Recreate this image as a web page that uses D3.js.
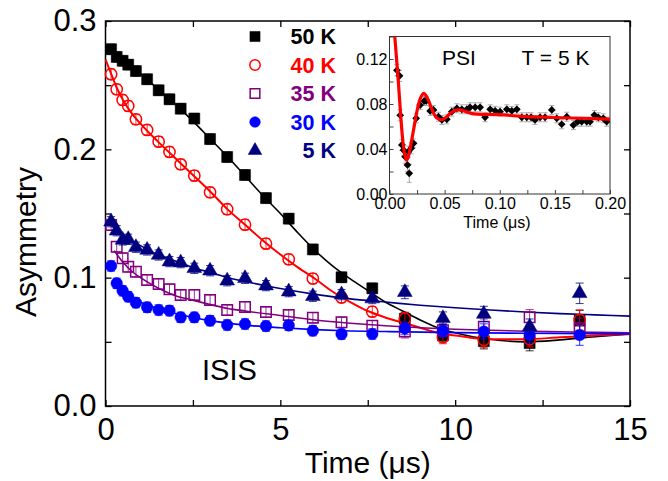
<!DOCTYPE html>
<html><head><meta charset="utf-8">
<script src="https://cdn.jsdelivr.net/npm/d3@7"></script>
<style>body{margin:0;background:#fff} svg{display:block} text{font-family:"Liberation Sans",Arial,sans-serif}</style>
</head><body><svg id="c" width="668" height="481"></svg>
<script>
// ---------- main (ISIS) data ----------
const times = [0.16,0.32,0.49,0.65,0.87,1.19,1.52,1.83,2.15,2.54,2.99,3.48,3.99,4.59,5.24,5.93,6.75,7.63,8.56,9.65,10.82,12.13,13.56];
const a50 = [0.278,0.272,0.269,0.266,0.261,0.2546,0.246,0.239,0.2317,0.224,0.208,0.194,0.180,0.162,0.146,0.122,0.1003,0.0917,0.068,0.055,0.0505,0.049,0.0665];
const a40 = [0.2585,0.2468,0.2385,0.2338,0.2234,0.2151,0.206,0.198,0.1883,0.1795,0.1665,0.1533,0.1413,0.1265,0.1143,0.0993,0.0845,0.0735,0.068,0.0535,0.0514,0.052,0.067];
const a35 = [0.141,0.1241,0.1151,0.1085,0.1047,0.0982,0.0951,0.0909,0.0865,0.0865,0.0826,0.0748,0.0772,0.0732,0.0709,0.0688,0.0652,0.0626,0.058,0.059,0.0618,0.0691,0.0605];
const a30 = [0.1091,0.0956,0.0898,0.0852,0.0805,0.0769,0.0748,0.0743,0.0691,0.0691,0.0665,0.0631,0.0639,0.0623,0.0628,0.0587,0.056,0.0561,0.0605,0.0587,0.058,0.0553,0.0553];
const a5  = [0.1436,0.1366,0.1294,0.1299,0.1237,0.1216,0.1177,0.1125,0.1117,0.1073,0.1054,0.0976,0.0995,0.0938,0.0891,0.0855,0.0868,0.0837,0.0886,0.0683,0.0717,0.0618,0.0878];
const isisErr = [0.004,0.004,0.004,0.004,0.004,0.004,0.004,0.004,0.004,0.004,0.004,0.004,0.004,0.004,0.004,0.004,0.004,0.004,0.005,0.005,0.006,0.006,0.008];

// fit curves
const fit50T = [0,0.5,1,1.5,2,2.5,3,3.5,4,4.5,5,5.5,6,6.5,7,7.5,8,8.5,9,9.5,10,10.5,11,12,13,14,15];
const fit50A = [0.282,0.270,0.259,0.247,0.235,0.222,0.208,0.194,0.179,0.164,0.150,0.135,0.121,0.109,0.099,0.090,0.081,0.074,0.067,0.061,0.057,0.054,0.052,0.050,0.0515,0.054,0.056];
const fit40T = [0,0.16,0.32,0.5,0.75,1,1.5,2,2.5,3,3.5,4,4.5,5,5.5,6,6.5,7,7.5,8,8.5,9,9.5,10,10.5,11,12,13,14,15];
const fit40A = [0.270,0.259,0.248,0.2385,0.228,0.220,0.206,0.193,0.180,0.167,0.153,0.141,0.129,0.118,0.108,0.099,0.089,0.081,0.074,0.069,0.065,0.061,0.057,0.055,0.053,0.052,0.052,0.0535,0.055,0.056];
const fit35T = [0.25,0.5,0.75,1,1.5,2,2.5,3,3.5,4,5,6,7,8,9,10,11,12,13,14,15];
const fit35A = [0.121,0.112,0.105,0.100,0.092,0.086,0.0825,0.079,0.076,0.074,0.0705,0.067,0.0645,0.0625,0.061,0.0598,0.059,0.0583,0.0578,0.0574,0.0571];
const fit30T = [0.25,0.5,0.75,1,1.5,2,2.5,3,4,5,6,7,8,10,12,15];
const fit30A = [0.097,0.090,0.085,0.081,0.076,0.072,0.069,0.0665,0.063,0.061,0.0595,0.0585,0.058,0.0572,0.0567,0.0562];
const fit5T = [0,0.5,1,1.5,2,2.5,3,3.5,4,5,6,7,8,9,10,11,12,13,14,15];
const fit5A = [0.145,0.133,0.125,0.118,0.113,0.108,0.104,0.100,0.097,0.0915,0.087,0.0835,0.081,0.0785,0.0765,0.0748,0.0733,0.072,0.071,0.070];

const seriesNames = ["50 K","40 K","35 K","30 K","5 K"];
const xTickLabels = ["0","5","10","15"];
const yTickLabels = ["0.0","0.1","0.2","0.3"];

// ---------- inset (PSI) data ----------
const psiT = [0.0067,0.0091,0.0097,0.0112,0.0127,0.0142,0.0163,0.0179,0.0172,0.0197,0.0218,0.0242,0.0278,0.0315,0.0333,0.0369,0.0399,0.0444,0.0475,0.052,0.0565,0.0611,0.0656,0.0701,0.0731,0.0777,0.0822,0.0867,0.0913,0.0958,0.1003,0.1064,0.1109,0.1155,0.12,0.1245,0.1284,0.132,0.1366,0.1411,0.1472,0.1517,0.1562,0.1608,0.1668,0.1707,0.1743,0.1789,0.1819,0.1858,0.1894,0.1939,0.197];
const psiA = [0.110,0.105,0.070,0.0436,0.039,0.0332,0.0258,0.0184,0.0376,0.0406,0.045,0.0673,0.079,0.0827,0.0827,0.0738,0.0747,0.0687,0.0658,0.0664,0.0732,0.0762,0.0753,0.0753,0.0771,0.0771,0.0771,0.0682,0.0753,0.074,0.0732,0.0753,0.0738,0.0753,0.0682,0.0682,0.0682,0.0658,0.0682,0.0682,0.0747,0.0673,0.062,0.0687,0.0613,0.0643,0.0643,0.0643,0.0643,0.0702,0.0682,0.0673,0.0643];
const psiErr = [0.005,0.005,0.005,0.005,0.005,0.006,0.006,0.008,0.005,0.005,0.004,0.004,0.004,0.004,0.004,0.004,0.004,0.004,0.004,0.004,0.004,0.004,0.004,0.004,0.004,0.004,0.004,0.004,0.004,0.004,0.004,0.004,0.004,0.004,0.004,0.004,0.004,0.004,0.004,0.004,0.004,0.004,0.004,0.004,0.004,0.004,0.004,0.004,0.004,0.004,0.004,0.004,0.004];
const psiFitT = [0.004,0.006,0.008,0.010,0.012,0.014,0.0155,0.017,0.019,0.022,0.025,0.028,0.031,0.034,0.037,0.040,0.043,0.047,0.051,0.055,0.060,0.065,0.070,0.075,0.080,0.100,0.120,0.150,0.200];
const psiFitA = [0.150,0.125,0.100,0.072,0.048,0.034,0.030,0.033,0.042,0.058,0.074,0.085,0.0895,0.086,0.079,0.072,0.0675,0.066,0.068,0.0715,0.0745,0.0745,0.073,0.0715,0.071,0.0705,0.069,0.068,0.0665];
const insetXTicks = ["0.00","0.05","0.10","0.15","0.20"];
const insetYTicks = ["0.00","0.04","0.08","0.12"];

// ---------- drawing ----------
const svg = d3.select("#c");
const FONT = '"Liberation Sans",Arial,sans-serif';
const x = d3.scaleLinear().domain([0,15]).range([105.5,630]);
const y = d3.scaleLinear().domain([0,0.3]).range([406,21]);

const series = [
  {name:seriesNames[0], vals:a50, fitT:fit50T, fitA:fit50A, color:"#000000", sym:d3.symbolSquare, size:121, fill:true},
  {name:seriesNames[1], vals:a40, fitT:fit40T, fitA:fit40A, color:"#ff0000", sym:d3.symbolCircle, size:100, fill:false},
  {name:seriesNames[2], vals:a35, fitT:fit35T, fitA:fit35A, color:"#800080", sym:d3.symbolSquare, size:110, fill:false},
  {name:seriesNames[3], vals:a30, fitT:fit30T, fitA:fit30A, color:"#0000ff", sym:d3.symbolCircle, size:105, fill:true},
  {name:seriesNames[4], vals:a5,  fitT:fit5T,  fitA:fit5A,  color:"#000080", sym:d3.symbolTriangle, size:95, fill:true}
];

// axes (inward ticks)
const xt = d3.range(0,15.01,2.5), yt = d3.range(0,0.301,0.05);
const gx = svg.append("g").attr("transform","translate(0,406)")
  .call(d3.axisBottom(x).tickValues(xt).tickSizeInner(-6).tickSizeOuter(0).tickPadding(12)
    .tickFormat(d => Math.abs(d-Math.round(d/5)*5)<1e-9 ? xTickLabels[Math.round(d/5)] : ""));
const gx2 = svg.append("g").attr("transform","translate(0,21)")
  .call(d3.axisTop(x).tickValues(xt).tickSizeInner(-6).tickSizeOuter(0).tickFormat(""));
const gy = svg.append("g").attr("transform","translate(105.5,0)")
  .call(d3.axisLeft(y).tickValues(yt).tickSizeInner(-6).tickSizeOuter(0).tickPadding(9)
    .tickFormat(d => { const k=Math.round(d*10); return Math.abs(d*10-k)<1e-6 ? yTickLabels[k] : ""; }));
const gy2 = svg.append("g").attr("transform","translate(630,0)")
  .call(d3.axisRight(y).tickValues(yt).tickSizeInner(-6).tickSizeOuter(0).tickFormat(""));
[gx,gx2,gy,gy2].forEach(g => {
  g.select(".domain").remove();
  g.selectAll(".tick line").attr("stroke","#000").attr("stroke-width",1.3);
  g.selectAll("text").attr("font-family",FONT).attr("font-size",31).attr("fill","#000");
});
svg.append("rect").attr("x",105.5).attr("y",21).attr("width",630-105.5).attr("height",406-21)
  .attr("fill","none").attr("stroke","#000").attr("stroke-width",1.5);

// axis titles
svg.append("text").attr("x",(105.5+630)/2).attr("y",473).attr("text-anchor","middle")
  .attr("font-size",30).attr("font-family",FONT).text("Time (\u03bcs)");
svg.append("text").attr("transform","translate(36,242) rotate(-90)").attr("text-anchor","middle")
  .attr("font-size",30).attr("font-family",FONT).text("Asymmetry");
svg.append("text").attr("x",202).attr("y",379.5).attr("font-size",29).attr("font-family",FONT).text("ISIS");

// fit lines
const plot = svg.append("g");
const line = d3.line().x(d=>x(d[0])).y(d=>y(d[1])).curve(d3.curveMonotoneX);
series.forEach(s => {
  plot.append("path").datum(s.fitT.map((t,i)=>[t,s.fitA[i]]))
    .attr("d",line).attr("fill","none").attr("stroke",s.color).attr("stroke-width", s.color==="#ff0000"?2:1.6);
});
// error bars and markers
series.forEach(s => {
  const g = plot.append("g");
  s.vals.forEach((v,i) => {
    const cx = x(times[i]), e = isisErr[i];
    g.append("line").attr("x1",cx).attr("x2",cx).attr("y1",y(v-e)).attr("y2",y(v+e)).attr("stroke",s.color).attr("stroke-width",0.8);
    [v-e,v+e].forEach(yy => g.append("line").attr("x1",cx-4).attr("x2",cx+4).attr("y1",y(yy)).attr("y2",y(yy)).attr("stroke",s.color).attr("stroke-width",0.8));
  });
  g.selectAll("path.m").data(s.vals).join("path").attr("class","m")
    .attr("transform",(v,i)=>`translate(${x(times[i])},${y(v)})`)
    .attr("d",d3.symbol().type(s.sym).size(s.size))
    .attr("fill",s.fill?s.color:"none").attr("stroke",s.color).attr("stroke-width",s.fill?0.5:1.5);
});

// legend
const leg = svg.append("g");
series.forEach((s,i) => {
  const ly = 36.5 + i*28.5;
  leg.append("path").attr("transform",`translate(255,${ly})`)
    .attr("d",d3.symbol().type(s.sym).size(s.size*0.85))
    .attr("fill",s.fill?s.color:"none").attr("stroke",s.color).attr("stroke-width",s.fill?0.5:1.5);
  leg.append("text").attr("x",336).attr("y",ly+7.5).attr("text-anchor","end")
    .attr("font-size",21.5).attr("font-weight","bold").attr("font-family",FONT).attr("fill",s.color).text(s.name);
});

// ---------- inset ----------
const ix = d3.scaleLinear().domain([0,0.2]).range([389.5,610]);
const iy = d3.scaleLinear().domain([0,0.14]).range([194,36.5]);
const ins = svg.append("g");
ins.append("rect").attr("x",389.5).attr("y",36.5).attr("width",610-389.5).attr("height",194-36.5).attr("fill","#fff");
ins.append("clipPath").attr("id","iclip").append("rect").attr("x",389.5).attr("y",36.5).attr("width",610-389.5).attr("height",194-36.5);
const ixAx = ins.append("g").attr("transform","translate(0,194)")
  .call(d3.axisBottom(ix).tickValues(d3.range(0,0.2001,0.025)).tickSizeInner(-4).tickSizeOuter(0).tickPadding(3.5)
    .tickFormat(d => { const k=Math.round(d/0.05); return Math.abs(d-k*0.05)<1e-9 ? insetXTicks[k] : ""; }));
const iyAx = ins.append("g").attr("transform","translate(389.5,0)")
  .call(d3.axisLeft(iy).tickValues(d3.range(0,0.1401,0.02)).tickSizeInner(-4).tickSizeOuter(0).tickPadding(2)
    .tickFormat(d => { const k=Math.round(d/0.04); return Math.abs(d-k*0.04)<1e-9 ? insetYTicks[k] : ""; }));
[ixAx,iyAx].forEach(g => {
  g.select(".domain").remove();
  g.selectAll(".tick line").attr("stroke","#444").attr("stroke-width",1);
  g.selectAll("text").attr("font-family",FONT).attr("font-size",16).attr("fill","#000");
});
ins.append("rect").attr("x",389.5).attr("y",36.5).attr("width",610-389.5).attr("height",194-36.5)
  .attr("fill","none").attr("stroke","#333").attr("stroke-width",1);
ins.append("text").attr("x",497).attr("y",228).attr("text-anchor","middle").attr("font-size",16).attr("font-family",FONT).text("Time (\u03bcs)");
ins.append("text").attr("x",442).attr("y",64.5).attr("font-size",21).attr("font-family",FONT).text("PSI");
ins.append("text").attr("x",521.5).attr("y",64.5).attr("font-size",21).attr("font-family",FONT).text("T = 5 K");

const ig = ins.append("g").attr("clip-path","url(#iclip)");
psiA.forEach((v,i) => {
  const cx = ix(psiT[i]), e = psiErr[i];
  ig.append("line").attr("x1",cx).attr("x2",cx).attr("y1",iy(v-e)).attr("y2",iy(v+e)).attr("stroke","#999").attr("stroke-width",0.8);
  [v-e,v+e].forEach(yy => ig.append("line").attr("x1",cx-2.5).attr("x2",cx+2.5).attr("y1",iy(yy)).attr("y2",iy(yy)).attr("stroke","#999").attr("stroke-width",0.8));
});
ig.selectAll("path.d").data(psiA).join("path").attr("class","d")
  .attr("transform",(v,i)=>`translate(${ix(psiT[i])},${iy(v)}) rotate(45)`)
  .attr("d",d3.symbol().type(d3.symbolSquare).size(30)).attr("fill","#000");
ig.append("path").datum(psiFitT.map((t,i)=>[t,psiFitA[i]]))
  .attr("d",d3.line().x(d=>ix(d[0])).y(d=>iy(d[1])).curve(d3.curveCatmullRom.alpha(0.5)))
  .attr("fill","none").attr("stroke","#ff0000").attr("stroke-width",3.2);
</script></body></html>
